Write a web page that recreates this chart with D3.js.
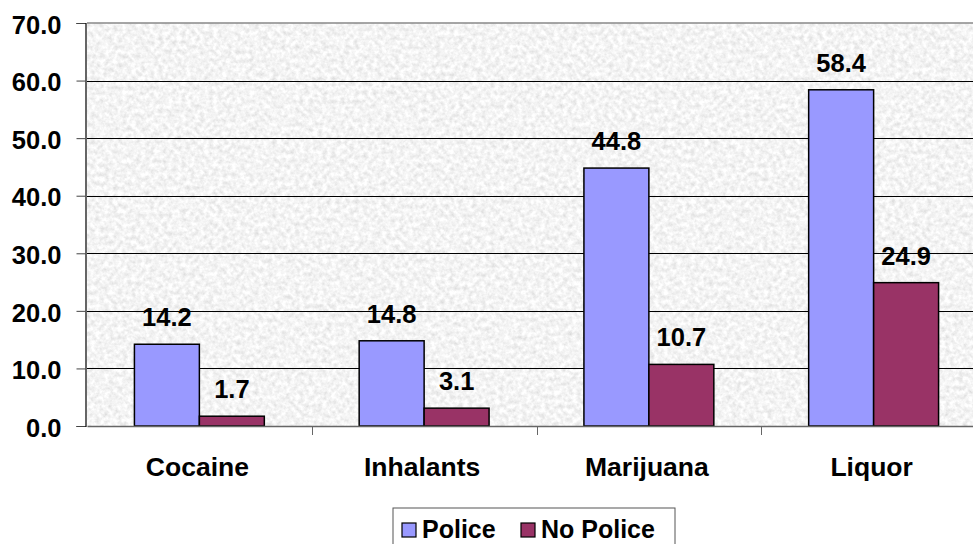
<!DOCTYPE html>
<html>
<head>
<meta charset="utf-8">
<script src="https://cdn.jsdelivr.net/npm/d3@7"></script>
<style>
  html, body { margin: 0; padding: 0; background: #fff; }
  svg { display: block; font-family: "Liberation Sans", Arial, sans-serif; font-weight: bold; }
</style>
</head>
<body>
<svg id="chart" width="973" height="544"></svg>
<script>
const categories = ["Cocaine", "Inhalants", "Marijuana", "Liquor"];
const seriesNames = ["Police", "No Police"];
const policeValues = [14.2, 14.8, 44.8, 58.4];
const noPoliceValues = [1.7, 3.1, 10.7, 24.9];
const yTicks = [0, 10, 20, 30, 40, 50, 60, 70];
const seriesColors = ["#9999FF", "#993366"];

const svg = d3.select("#chart");
const plot = { left: 87, right: 986, top: 23, bottom: 426 };

const x = d3.scaleBand().domain(categories).range([plot.left, plot.right]).paddingInner(0).paddingOuter(0);
const x1 = d3.scaleBand().domain(seriesNames).range([0, x.bandwidth()]).paddingInner(0).paddingOuter(0.73);
const y = d3.scaleLinear().domain([0, 70]).range([plot.bottom, plot.top]);

// background texture (granite-like)
const defs = svg.append("defs");
const f = defs.append("filter").attr("id", "noise")
  .attr("filterUnits", "userSpaceOnUse")
  .attr("x", plot.left).attr("y", plot.top)
  .attr("width", plot.right - plot.left).attr("height", plot.bottom - plot.top);
f.append("feTurbulence").attr("type", "fractalNoise").attr("baseFrequency", 0.22).attr("numOctaves", 3).attr("seed", 7).attr("result", "t");
f.append("feColorMatrix").attr("in", "t").attr("type", "matrix")
  .attr("values", "0.45 0 0 0 0.68  0.45 0 0 0 0.68  0.45 0 0 0 0.68  0 0 0 0 1");

svg.append("rect").attr("x", plot.left).attr("y", plot.top)
  .attr("width", plot.right - plot.left).attr("height", plot.bottom - plot.top)
  .attr("fill", "#e8e8e8").attr("filter", "url(#noise)");

// gridlines
svg.append("g").selectAll("line").data(yTicks.filter(d => d > 0 && d < 70)).join("line")
  .attr("x1", plot.left).attr("x2", plot.right)
  .attr("y1", d => Math.round(y(d)) + 0.5).attr("y2", d => Math.round(y(d)) + 0.5)
  .attr("stroke", "#000").attr("stroke-width", 1);
// top border
svg.append("line").attr("x1", plot.left).attr("x2", plot.right)
  .attr("y1", y(70)).attr("y2", y(70)).attr("stroke", "#888").attr("stroke-width", 1.5);

// y axis
const yAxis = d3.axisLeft(y).tickValues(yTicks).tickSize(9).tickPadding(15).tickFormat(d3.format(".1f"));
const gy = svg.append("g").attr("transform", `translate(${plot.left - 1.5},0)`).call(yAxis);
gy.select(".domain").attr("stroke", "#000").attr("stroke-width", 1.2);
gy.selectAll(".tick line").attr("stroke", "#444");
gy.selectAll(".tick text").attr("font-size", 25.5).attr("font-weight", "bold")
  .attr("font-family", "Liberation Sans, Arial, sans-serif").attr("fill", "#000").attr("dy", "0.4em");

// bars
const rows = categories.map((c, i) => ({ cat: c, vals: [policeValues[i], noPoliceValues[i]] }));
const groups = svg.append("g").selectAll("g").data(rows).join("g")
  .attr("transform", d => `translate(${x(d.cat)},0)`);
groups.selectAll("rect").data(d => d.vals.map((v, j) => ({ s: seriesNames[j], v, j }))).join("rect")
  .attr("x", d => x1(d.s)).attr("width", x1.bandwidth())
  .attr("y", d => y(d.v)).attr("height", d => y(0) - y(d.v))
  .attr("fill", d => seriesColors[d.j]).attr("stroke", "#000").attr("stroke-width", 1.5);
groups.selectAll("text").data(d => d.vals.map((v, j) => ({ s: seriesNames[j], v, j }))).join("text")
  .attr("x", d => x1(d.s) + x1.bandwidth() / 2).attr("y", d => y(d.v) - 18)
  .attr("text-anchor", "middle").attr("font-size", 25.5).attr("fill", "#000")
  .text(d => d3.format(".1f")(d.v));

// x axis
const xAxis = d3.axisBottom(x).tickSize(0).tickPadding(0).tickFormat(d => d);
const gx = svg.append("g").attr("transform", `translate(0,${plot.bottom})`).call(xAxis);
gx.select(".domain").attr("stroke", "#666").attr("stroke-width", 1.5);
gx.selectAll(".tick text").attr("font-size", 26.5).attr("font-weight", "bold")
  .attr("font-family", "Liberation Sans, Arial, sans-serif").attr("fill", "#000")
  .attr("dy", 0).attr("y", 50).attr("dx", -2);
// category separators
svg.append("g").selectAll("line").data(categories.slice(1)).join("line")
  .attr("x1", d => Math.round(x(d)) + 0.5).attr("x2", d => Math.round(x(d)) + 0.5)
  .attr("y1", plot.bottom).attr("y2", plot.bottom + 9)
  .attr("stroke", "#666").attr("stroke-width", 1);

// legend
const lg = svg.append("g").attr("transform", "translate(393,508)");
lg.append("rect").attr("x", 0).attr("y", 0).attr("width", 282).attr("height", 50)
  .attr("fill", "#fff").attr("stroke", "#555").attr("stroke-width", 1);
const legendX = [9, 128];
const li = lg.selectAll("g.item").data(seriesNames).join("g").attr("class", "item")
  .attr("transform", (d, i) => `translate(${legendX[i]},15)`);
li.append("rect").attr("width", 14).attr("height", 14)
  .attr("fill", (d, i) => seriesColors[i]).attr("stroke", "#000").attr("stroke-width", 1.2);
li.append("text").attr("x", 20).attr("y", 14.5).attr("font-size", 25).attr("fill", "#000").text(d => d);
</script>
</body>
</html>
